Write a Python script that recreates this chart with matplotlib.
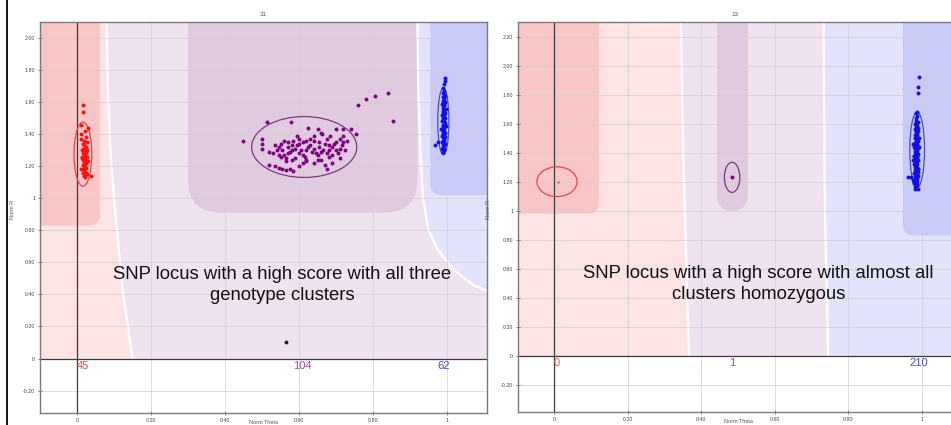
import numpy as np
import matplotlib.pyplot as plt
from matplotlib.patches import Polygon, FancyBboxPatch, Ellipse, Rectangle
from matplotlib.lines import Line2D
from matplotlib.ticker import FuncFormatter

# ---- left panel (SNP 31) ----
aa_x_l = [0.016,0.017,0.012,0.030,0.022,0.010,0.025,0.018,0.028,0.015,
          0.020,0.024,0.019,0.013,0.027,0.021,0.016,0.023,0.018,0.026,
          0.014,0.020,0.022,0.017,0.029,0.019,0.024,0.015,0.021,0.018,
          0.025,0.012,0.020,0.023,0.016,0.026,0.019,0.022,0.014,0.021,
          0.017,0.024,0.020,0.038,0.011]
aa_y_l = [1.58,1.54,1.46,1.44,1.42,1.40,1.38,1.36,1.35,1.34,
          1.33,1.32,1.31,1.30,1.30,1.29,1.28,1.28,1.27,1.26,
          1.26,1.25,1.24,1.24,1.23,1.22,1.22,1.21,1.20,1.19,
          1.19,1.18,1.17,1.16,1.16,1.15,1.14,1.13,1.25,1.27,
          1.31,1.29,1.21,1.14,1.37]
ab_x_l = [0.448,0.513,0.578,0.625,0.65,0.66,0.662,0.70,0.72,0.74,
          0.755,0.76,0.78,0.805,0.84,0.855,0.72,0.50,0.50,0.50,
          0.52,0.53,0.52,0.535,0.545,0.555,0.565,0.585,0.575,0.60,
          0.61,0.62,0.64,0.65,0.66,0.67,0.675,0.68,0.69,0.70,
          0.71,0.715,0.72,0.73,0.70,0.68,0.67,0.655,0.64,0.63,
          0.62,0.61,0.60,0.595,0.59,0.58,0.575,0.57,0.56,0.55,
          0.545,0.54,0.545,0.55,0.56,0.57,0.585,0.595,0.60,0.61,
          0.615,0.62,0.625,0.63,0.64,0.645,0.65,0.66,0.665,0.675,
          0.68,0.69,0.695,0.705,0.71,0.69,0.655,0.635,0.605,0.59,
          0.58,0.565,0.57,0.555,0.535,0.60,0.64,0.675,0.685,0.71,
          0.725,0.62,0.58,0.565]
ab_y_l = [1.36,1.475,1.475,1.44,1.43,1.41,1.40,1.43,1.43,1.43,
          1.40,1.58,1.62,1.64,1.66,1.48,1.39,1.37,1.34,1.31,
          1.29,1.28,1.21,1.20,1.19,1.18,1.175,1.17,1.18,1.20,
          1.22,1.23,1.22,1.24,1.24,1.21,1.18,1.26,1.27,1.30,
          1.31,1.33,1.35,1.36,1.35,1.33,1.34,1.35,1.36,1.37,
          1.36,1.35,1.34,1.33,1.31,1.30,1.29,1.28,1.27,1.26,
          1.27,1.30,1.32,1.34,1.36,1.35,1.36,1.39,1.28,1.27,
          1.26,1.30,1.32,1.33,1.31,1.28,1.27,1.29,1.30,1.28,
          1.30,1.32,1.34,1.28,1.25,1.22,1.32,1.29,1.30,1.25,
          1.24,1.23,1.32,1.30,1.33,1.37,1.39,1.37,1.39,1.37,
          1.30,1.24,1.33,1.25]
bb_x_l = [0.995,0.994,0.992,0.990,0.993,0.989,0.991,0.994,0.988,0.992,
          0.990,0.995,0.987,0.993,0.991,0.989,0.996,0.990,0.992,0.988,
          0.994,0.991,0.986,0.993,0.990,0.995,0.989,0.992,0.987,0.994,
          0.991,0.990,0.996,0.988,0.993,0.985,0.992,0.990,0.994,0.989,
          0.991,0.987,0.995,0.990,0.993,0.988,0.992,0.986,0.994,0.990,
          0.991,0.989,0.993,0.987,0.992,0.990,0.988,0.991,0.968,0.975,
          0.993,0.989]
bb_y_l = [1.75,1.73,1.71,1.69,1.67,1.66,1.65,1.64,1.63,1.62,
          1.61,1.60,1.59,1.58,1.58,1.57,1.56,1.55,1.55,1.54,
          1.53,1.52,1.52,1.51,1.50,1.50,1.49,1.48,1.48,1.47,
          1.46,1.46,1.45,1.44,1.44,1.43,1.42,1.42,1.41,1.40,
          1.40,1.39,1.38,1.38,1.37,1.36,1.36,1.35,1.34,1.34,
          1.33,1.32,1.31,1.31,1.30,1.29,1.45,1.53,1.33,1.35,
          1.60,1.41]
nc_x_l = [0.565]
nc_y_l = [0.106]
counts_l = ['45', '104', '62']
# ellipses: (cx, cy, width, height)
ell_l = [(0.016, 1.275, 0.048, 0.40), (0.614, 1.32, 0.284, 0.38), (0.99, 1.48, 0.03, 0.42)]
# cluster region boundaries (top -> bottom)
edge1_x_l = [0.080, 0.083, 0.090, 0.100, 0.112, 0.125, 0.150]
edge1_y_l = [2.10, 1.70, 1.30, 1.00, 0.70, 0.40, 0.00]
edge2_x_l = [0.920, 0.922, 0.928, 0.935, 0.950, 0.975, 1.020, 1.070, 1.120]
edge2_y_l = [2.10, 1.70, 1.30, 1.00, 0.80, 0.68, 0.55, 0.46, 0.41]
# dark boxes: (x0, x1, ybottom)
box_l = [(-0.2, 0.062, 0.83), (0.30, 0.92, 0.91), (0.955, 1.3, 1.02)]

# ---- right panel (SNP 13) ----
aa_x_r = [0.01]
aa_y_r = [1.20]
ab_x_r = [0.484]
ab_y_r = [1.23]
bb_y_r = [1.92,1.85,1.81,1.68,1.67,1.65,1.64,1.62,1.61,1.60,
          1.59,1.58,1.57,1.56,1.55,1.55,1.54,1.53,1.52,1.52,
          1.51,1.50,1.50,1.49,1.48,1.48,1.47,1.47,1.46,1.45,
          1.45,1.44,1.44,1.43,1.43,1.42,1.42,1.41,1.41,1.40,
          1.40,1.39,1.39,1.38,1.38,1.37,1.37,1.36,1.36,1.35,
          1.35,1.34,1.34,1.33,1.33,1.32,1.32,1.31,1.31,1.30,
          1.30,1.29,1.29,1.28,1.28,1.27,1.27,1.26,1.26,1.25,
          1.25,1.24,1.24,1.23,1.23,1.22,1.22,1.21,1.21,1.20,
          1.20,1.19,1.19,1.18,1.18,1.17,1.17,1.16,1.15,1.15,
          1.23,1.46,1.38,1.29,1.21,1.44,1.35,1.27,1.19,1.50]
bb_x_r = [0.992,0.990,0.988,0.986,0.984,0.987,0.983,0.985,0.988,0.982,
          0.986,0.984,0.989,0.981,0.985,0.988,0.983,0.986,0.980,0.987,
          0.984,0.989,0.982,0.986,0.983,0.988,0.980,0.985,0.987,0.982,
          0.986,0.979,0.984,0.988,0.981,0.985,0.983,0.987,0.980,0.986,
          0.984,0.988,0.982,0.986,0.979,0.984,0.987,0.981,0.985,0.983,
          0.988,0.980,0.986,0.984,0.982,0.987,0.979,0.985,0.983,0.986,
          0.981,0.984,0.988,0.980,0.985,0.983,0.987,0.979,0.984,0.986,
          0.982,0.985,0.988,0.962,0.981,0.984,0.986,0.980,0.983,0.987,
          0.982,0.985,0.979,0.984,0.987,0.981,0.985,0.983,0.988,0.980,
          0.970,0.976,0.978,0.990,0.975,0.991,0.977,0.990,0.978,0.992]
counts_r = ['0', '1', '210']
ell_r = [(0.008, 1.20, 0.109, 0.205), (0.484, 1.23, 0.042, 0.207), (0.987, 1.42, 0.04, 0.52)]
edge1_x_r = [0.345, 0.348, 0.352, 0.358, 0.362, 0.367]
edge1_y_r = [2.30, 1.80, 1.30, 0.80, 0.40, 0.00]
edge2_x_r = [0.733, 0.734, 0.735, 0.738, 0.742, 0.745]
edge2_y_r = [2.30, 1.80, 1.30, 0.80, 0.40, 0.00]
box_r = [(-0.3, 0.122, 0.98), (0.443, 0.527, 1.00), (0.948, 1.4, 0.83)]

c_pink, c_pink_d = '#fce3e4', '#f9c6c8'
c_purp, c_purp_d = '#f0e3f0', '#dfcae0'
c_blue, c_blue_d = '#e3e3fb', '#cacaf8'
c_red_pt, c_het_pt, c_blue_pt = '#ff1010', '#800080', '#1010e0'


def fmt(v, pos):
    if abs(v) < 1e-9:
        return '0'
    if abs(v - 1) < 1e-9:
        return '1'
    return '%.2f' % v


def panel(ax, xlim, ylim, asp, e1x, e1y, e2x, e2y, boxes, rnd):
    x0, x1 = xlim
    ytop = ylim[1]
    ax.set_xlim(xlim)
    ax.set_ylim(ylim)
    ax.add_patch(Rectangle((x0, 0), x1 - x0, ytop, color=c_purp, lw=0, zorder=0.5))
    ax.add_patch(Polygon([(x0, ytop)] + list(zip(e1x, e1y)) + [(x0, 0)],
                         closed=True, color=c_pink, lw=0, zorder=0.6))
    ax.add_patch(Polygon(list(zip(e2x, e2y)) + [(x1 + 0.2, e2y[-1]), (x1 + 0.2, ytop)],
                         closed=True, color=c_blue, lw=0, zorder=0.6))
    for (bx0, bx1, by), col, r in zip(boxes, [c_pink_d, c_purp_d, c_blue_d], rnd):
        ax.add_patch(FancyBboxPatch((bx0, by), bx1 - bx0, ytop + 1 - by,
                                    boxstyle='round,pad=0,rounding_size=%g' % r,
                                    mutation_aspect=asp, color=col, lw=0, zorder=0.7))
    ax.plot(e1x, e1y, color='white', lw=1.6, zorder=0.8)
    ax.plot(e2x, e2y, color='white', lw=1.6, zorder=0.8)
    ax.set_axisbelow('line')
    ax.grid(True, color='#cfcfcf', lw=0.6, alpha=0.8)
    ax.axvline(0, color='#3a3a3a', lw=0.9, zorder=2.5)
    ax.axhline(0, color='#3a3a3a', lw=0.9, zorder=2.5)
    ax.set_xticks([0, 0.2, 0.4, 0.6, 0.8, 1])
    ax.xaxis.set_major_formatter(FuncFormatter(fmt))
    ax.yaxis.set_major_formatter(FuncFormatter(fmt))
    ax.tick_params(labelsize=3.8, labelcolor='#444444', length=3, width=0.5,
                   direction='inout', color='#555555', pad=2)
    for s in ax.spines.values():
        s.set_color('#7a7a7a')
        s.set_linewidth(1.0)


plt.rcParams['font.family'] = ['Liberation Sans', 'DejaVu Sans']
fig = plt.figure(figsize=(9.51, 4.25), dpi=100)

# left panel
axl = fig.add_axes([40 / 951, 1 - 413 / 425, 447 / 951, 391 / 425])
panel(axl, (-0.10, 1.108), (-0.34, 2.10), 370 / 160,
      edge1_x_l, edge1_y_l, edge2_x_l, edge2_y_l, box_l, [0.03, 0.09, 0.03])
axl.set_yticks(np.arange(-0.2, 2.01, 0.2))
axl.scatter(aa_x_l, aa_y_l, s=8, color=c_red_pt, lw=0, zorder=4)
axl.scatter(ab_x_l, ab_y_l, s=8, color=c_het_pt, lw=0, zorder=4)
axl.scatter(bb_x_l, bb_y_l, s=8, color=c_blue_pt, lw=0, zorder=4)
axl.scatter(nc_x_l, nc_y_l, s=8, color='#202020', lw=0, zorder=4)
for (cx, cy, w, h), ec in zip(ell_l, ['#e04848', '#7a3a7a', '#4848c8']):
    axl.add_patch(Ellipse((cx, cy), w, h, fill=False, ec=ec, lw=0.9, zorder=3.5))
axl.text(0.0, -0.045, counts_l[0], color='#f04848', fontsize=8, ha='left', va='center', zorder=5)
axl.text(0.61, -0.045, counts_l[1], color='#9a48aa', fontsize=8, ha='center', va='center', zorder=5)
axl.text(0.99, -0.045, counts_l[2], color='#4a4ad0', fontsize=8, ha='center', va='center', zorder=5)
axl.text(0.555, 0.46, 'SNP locus with a high score with all three\ngenotype clusters',
         fontsize=13.3, ha='center', va='center', color='#111111', linespacing=1.3, zorder=6)
axl.set_title('31', fontsize=4.5, color='#555555', pad=4)
axl.set_ylabel('Norm R', fontsize=4, color='#555555')
axl.yaxis.set_label_coords(-0.056, 0.52)
axl.set_xlabel('Norm Theta', fontsize=4, color='#555555')
axl.xaxis.set_label_coords(0.5, -0.018)

# right panel
axr = fig.add_axes([518 / 951, 1 - 412 / 425, 433 / 951, 390 / 425])
panel(axr, (-0.098, 1.079), (-0.386, 2.30), 368 / 145,
      edge1_x_r, edge1_y_r, edge2_x_r, edge2_y_r, box_r, [0.03, 0.042, 0.03])
axr.set_yticks(np.arange(-0.2, 2.21, 0.2))
axr.spines['right'].set_visible(False)
axr.scatter(aa_x_r, aa_y_r, s=3, color='#d05050', lw=0, zorder=4)
axr.scatter(ab_x_r, ab_y_r, s=8, color=c_het_pt, lw=0, zorder=4)
axr.scatter(bb_x_r, bb_y_r, s=8, color=c_blue_pt, lw=0, zorder=4)
for (cx, cy, w, h), ec in zip(ell_r, ['#e04848', '#7a3a7a', '#4848c8']):
    axr.add_patch(Ellipse((cx, cy), w, h, fill=False, ec=ec, lw=0.9, zorder=3.5))
axr.text(0.0, -0.05, counts_r[0], color='#f04848', fontsize=8, ha='left', va='center', zorder=5)
axr.text(0.484, -0.05, counts_r[1], color='#9a48aa', fontsize=8, ha='center', va='center', zorder=5)
axr.text(0.99, -0.05, counts_r[2], color='#4a4ad0', fontsize=8, ha='center', va='center', zorder=5)
axr.text(0.556, 0.493, 'SNP locus with a high score with almost all\nclusters homozygous',
         fontsize=13.3, ha='center', va='center', color='#111111', linespacing=1.3, zorder=6)
axr.set_title('13', fontsize=4.5, color='#555555', pad=4)
axr.set_ylabel('Norm R', fontsize=4, color='#555555')
axr.yaxis.set_label_coords(-0.062, 0.52)
axr.set_xlabel('Norm Theta', fontsize=4, color='#555555')
axr.xaxis.set_label_coords(0.51, -0.018)

fig.add_artist(Line2D([7 / 951, 7 / 951], [0, 1], color='black', lw=1.3))

fig.savefig('out.png', dpi=100)
